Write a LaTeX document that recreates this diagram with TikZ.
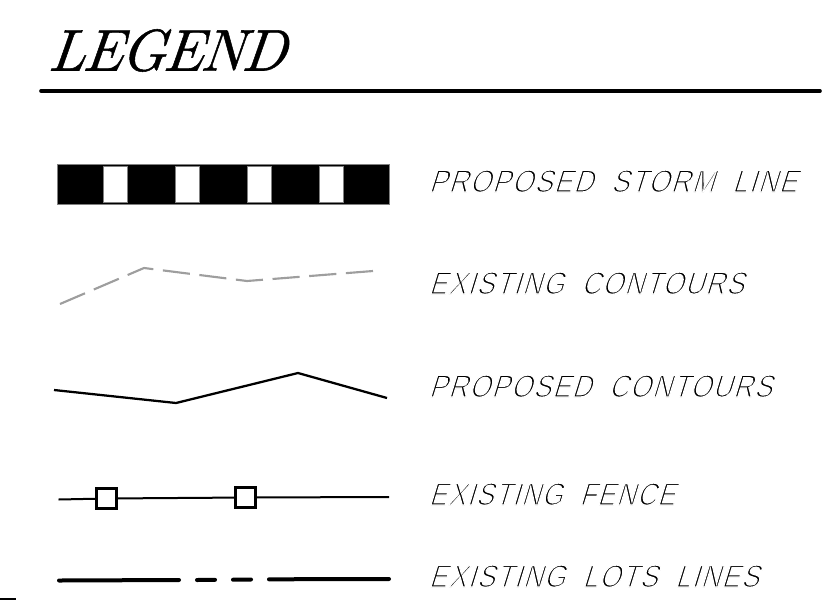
\documentclass[tikz,border=0pt]{standalone}
\usepackage{graphicx}
\usepackage{fontspec}
\setmainfont{Latin Modern Roman}
\newfontfamily\lblfont[FakeSlant=0.36,WordSpace=2.0,LetterSpace=5]{Liberation Sans}
\newfontfamily\ttlfont[FakeSlant=0.38,FakeBold=0.9,LetterSpace=1]{Latin Modern Roman}
\newcommand\lab[2]{\resizebox{#1pt}{16.5pt}{\special{pdf:code q 2 Tr 0.42 w 1 1 1 RG}\lblfont #2\special{pdf:code Q}}}
\tikzset{
 px/.style={x=0.75pt,y=-0.75pt},
 lbl/.style={anchor=base west,inner sep=0pt,text=black},
 sq/.style={draw=black,fill=white,line width=1.7pt,minimum size=15pt,inner sep=0pt,outer sep=0pt},
 thinl/.style={line width=1.5pt,draw=black},
 lots/.style={line width=3pt,draw=black,line cap=round},
 graycontour/.style={draw=black!38,line width=1.6pt,dash pattern=on 20.4pt off 7.2pt,line join=round},
 window/.style={draw=black!50,fill=white,line width=.5pt}
}
\begin{document}
\begin{tikzpicture}[px]
\useasboundingbox (0,0) rectangle (830,600);
\node[anchor=base west,inner sep=0pt] (title) at (49,70.5) {\resizebox{176pt}{31pt}{\ttlfont LEGEND}};
\coordinate (r1) at (41,91); \coordinate (r2) at (820,91);
\draw[line width=2.7pt,line cap=round] (r1) -- (r2);
% storm line
\filldraw[fill=black,draw=black!50,line width=.4pt] (57,164) rectangle (389,204);
\foreach \x in {103,175,247,319}{\draw[window] (\x,166) rectangle (\x+24,202);}
\node[lbl] (t1) at (428.5,192) {\lab{276}{PROPOSED STORM LINE}};
% existing contours
\coordinate (a1) at (60,304); \coordinate (a2) at (144,268); \coordinate (a3) at (247,281); \coordinate (a4) at (373,271);
\draw[graycontour] (a1) -- (a2) -- (a3) -- (a4);
\node[lbl] (t2) at (428.5,294) {\lab{236.25}{EXISTING CONTOURS}};
% proposed contours
\coordinate (b1) at (54,390); \coordinate (b2) at (176,403); \coordinate (b3) at (298,373); \coordinate (b4) at (387,398);
\draw[line width=1.7pt,line join=round] (b1) -- (b2) -- (b3) -- (b4);
\node[lbl] (t3) at (428.5,397) {\lab{257.25}{PROPOSED CONTOURS}};
% fence
\coordinate (c1) at (58.5,499.5); \coordinate (c2) at (389,497);
\node[sq] (s1) at (106.5,498.5) {};
\node[sq] (s2) at (245.5,497.5) {};
\draw[thinl] (c1) -- (s1) (s1) -- (s2) (s2) -- (c2);
\node[lbl] (t4) at (428.5,505) {\lab{184.5}{EXISTING FENCE}};
% lots
\coordinate (d1) at (59,580.5); \coordinate (d2) at (179,580);
\coordinate (d3) at (197,580); \coordinate (d4) at (215,579.8);
\coordinate (d5) at (233,579.7); \coordinate (d6) at (251,579.5);
\coordinate (d7) at (269,579.3); \coordinate (d8) at (389,579);
\draw[lots] (d1) -- (d2) (d3) -- (d4) (d5) -- (d6) (d7) -- (d8);
\node[lbl] (t5) at (428.5,587) {\lab{247.5}{EXISTING LOTS LINES}};
% stub at the bottom edge
\coordinate (e1) at (0,599); \coordinate (e2) at (16,599);
\draw[line width=1.5pt] (e1) -- (e2);
\end{tikzpicture}
\end{document}
